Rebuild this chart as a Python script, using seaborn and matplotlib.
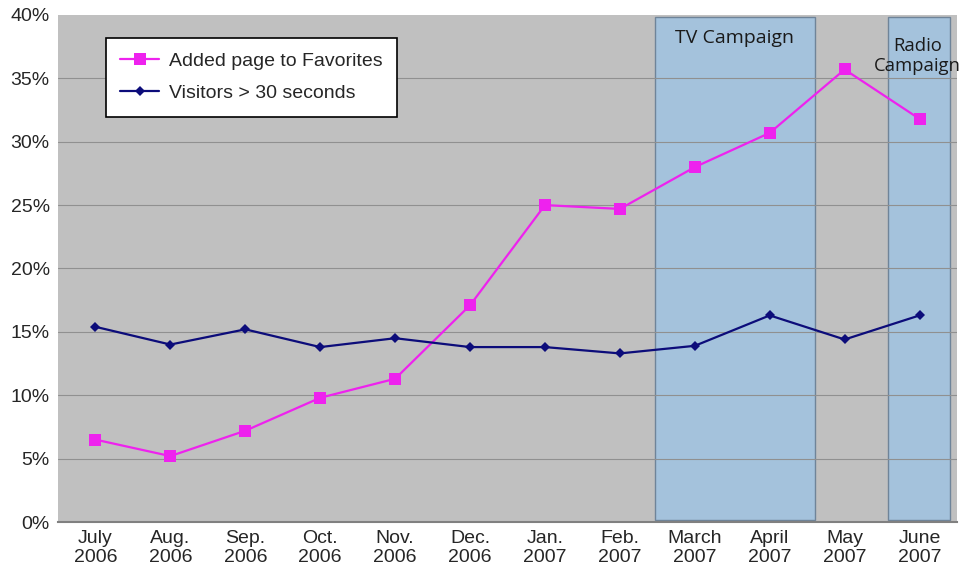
import matplotlib
matplotlib.use("Agg")
import matplotlib.pyplot as plt
import seaborn as sns
import pandas as pd
import numpy as np

months = ["July\n2006", "Aug.\n2006", "Sep.\n2006", "Oct.\n2006", "Nov.\n2006", "Dec.\n2006",
          "Jan.\n2007", "Feb.\n2007", "March\n2007", "April\n2007", "May\n2007", "June\n2007"]
favorites = [6.5, 5.2, 7.2, 9.8, 11.3, 17.1, 25.0, 24.7, 28.0, 30.7, 35.7, 31.8]
visitors = [15.4, 14.0, 15.2, 13.8, 14.5, 13.8, 13.8, 13.3, 13.9, 16.3, 14.4, 16.3]
y_ticks = [0, 5, 10, 15, 20, 25, 30, 35, 40]
campaigns = ["TV Campaign", "Radio\nCampaign"]

s1 = "Added page to Favorites"
s2 = "Visitors > 30 seconds"
idx = np.arange(len(months))
df = pd.DataFrame({
    "x": np.concatenate([idx, idx]),
    "y": favorites + visitors,
    "series": [s1] * len(months) + [s2] * len(months),
})

sns.set_style("white")
plt.rcParams["font.family"] = ["Liberation Sans", "DejaVu Sans"]

fig = plt.figure(figsize=(9.63, 5.72), dpi=100)
ax = fig.add_axes([0.0602, 0.0874, 0.9336, 0.8864])
ax.set_facecolor("#c0c0c0")

# campaign shaded regions
ax.axvspan(7.47, 9.6, ymin=0.004, ymax=0.996, facecolor="#a4c2dc", edgecolor="#6f8499", lw=1.0, zorder=1)
ax.axvspan(10.58, 11.41, ymin=0.004, ymax=0.996, facecolor="#a4c2dc", edgecolor="#6f8499", lw=1.0, zorder=1)

for t in y_ticks[1:-1]:
    ax.axhline(t, color="#909090", lw=0.8, zorder=1.5)

sns.lineplot(data=df, x="x", y="y", hue="series", style="series",
             palette={s1: "#ee22ee", s2: "#0c0c7a"},
             markers={s1: "s", s2: "D"}, dashes=False, ax=ax, lw=1.6,
             markeredgewidth=0, legend=True, zorder=3)
for line in ax.get_lines():
    if line.get_marker() == "s":
        line.set_markersize(8)
    elif line.get_marker() == "D":
        line.set_markersize(5.5)

ax.set_xlim(-0.5, len(months) - 0.5)
ax.set_ylim(0, 40)
ax.set_yticks(y_ticks)
ax.set_yticklabels([f"{t}%" for t in y_ticks], fontsize=14)
ax.set_xticks(idx)
ax.set_xticklabels(months, fontsize=14, linespacing=1.1)
ax.tick_params(axis="y", length=0, pad=6)
ax.tick_params(axis="x", length=0, pad=6)
ax.set_xlabel("")
ax.set_ylabel("")

for side in ["left", "top", "right"]:
    ax.spines[side].set_visible(False)
ax.spines["bottom"].set_color("#808080")
ax.spines["bottom"].set_linewidth(1.5)

ax.text(8.53, 38.9, campaigns[0], ha="center", va="top", fontsize=14,
        family=["Open Sans", "DejaVu Sans"], color="#1a1a1a", zorder=4)
ax.text(10.97, 38.3, campaigns[1], ha="center", va="top", fontsize=13.3,
        family=["Open Sans", "DejaVu Sans"], color="#1a1a1a", zorder=4, clip_on=False,
        linespacing=1.2)

leg = ax.legend(loc="upper left", bbox_to_anchor=(0.053, 0.955), borderaxespad=0,
                fontsize=14, frameon=True, fancybox=False, edgecolor="black", framealpha=1,
                handlelength=2.0, borderpad=0.75, labelspacing=0.75, handletextpad=0.5)
leg.get_frame().set_linewidth(1.2)
leg.set_title(None)
leg.set_zorder(5)

fig.savefig("out.png", dpi=100, facecolor="white")
